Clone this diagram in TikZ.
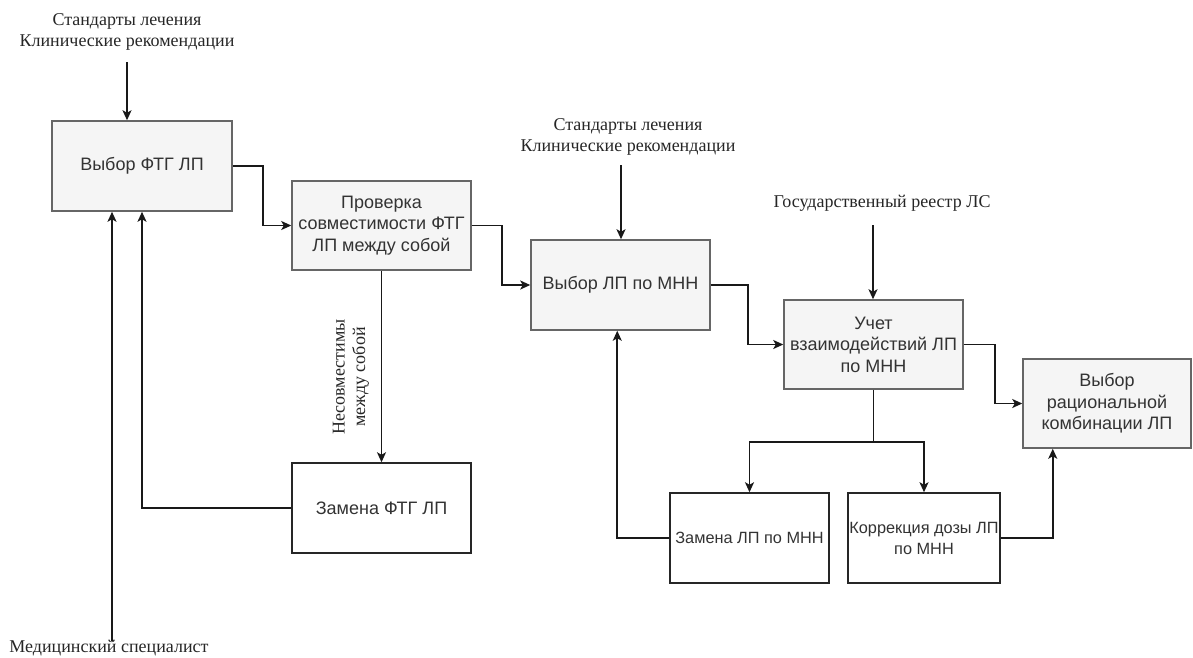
\documentclass[tikz,border=0pt]{standalone}
\usepackage{fontspec}
\setmainfont{Liberation Serif}
\newfontfamily\boxfont{Liberation Sans}
\usetikzlibrary{arrows.meta,positioning}
\definecolor{boxfill}{HTML}{F5F5F5}
\definecolor{boxline}{HTML}{666666}
\definecolor{boxtext}{HTML}{333333}
\tikzset{
  graybox/.style={draw=boxline, fill=boxfill, line width=1.5pt, text=boxtext,
    font=\boxfont\fontsize{18}{21.5}\selectfont, align=center, inner sep=2pt},
  whitebox/.style={draw=black!85, fill=white, line width=1.5pt, text=boxtext,
    font=\boxfont\fontsize{18}{21.5}\selectfont, align=center, inner sep=2pt},
  smalltext/.style={font=\boxfont\fontsize{16.3}{21}\selectfont, inner xsep=0pt},
  lbl/.style={font=\fontsize{18}{20.5}\selectfont, text=black!85, align=center, inner sep=0pt},
  conn/.style={line width=1.6pt, draw=black!90},
  arr/.style={conn, -{Stealth[length=10pt,width=9pt,inset=2.5pt]}},
}
\begin{document}
\begin{tikzpicture}[x=1pt,y=-1pt]
\useasboundingbox (0,0) rectangle (1193,657);
% boxes
\node[graybox, minimum width=180, minimum height=90] (b1) at (142,166) {Выбор ФТГ ЛП};
\node[graybox, minimum width=179, minimum height=89] (b2) at (381.5,225.5) {Проверка\\совместимости ФТГ\\ЛП между собой};
\node[whitebox, minimum width=179, minimum height=90] (b3) at (381.5,508) {Замена ФТГ ЛП};
\node[graybox, minimum width=179, minimum height=90] (b4) at (620.5,285) {Выбор ЛП по МНН};
\node[graybox, minimum width=179, minimum height=89] (b5) at (873.5,344.5) {Учет\\взаимодействий ЛП\\по МНН};
\node[graybox, minimum width=168, minimum height=89] (b6) at (1107,403.5) {Выбор\\рациональной\\комбинации ЛП};
\node[whitebox, smalltext, minimum width=159, minimum height=90] (b7) at (749.5,538) {Замена ЛП по МНН};
\node[whitebox, smalltext, minimum width=152, minimum height=90] (b8) at (924,538) {Коррекция дозы ЛП\\по МНН};
% labels
\node[lbl] (t1) at (127,32) {Стандарты лечения\\Клинические рекомендации};
\node[lbl] (t2) at (628,137) {Стандарты лечения\\Клинические рекомендации};
\node[lbl] (t3) at (882,203) {Государственный реестр ЛС};
\node[lbl] (t4) at (109,648) {Медицинский специалист};
\node[lbl, rotate=90] (t5) at (351,377) {Несовместимы\\между собой};
% input coordinates
\coordinate (i1) at (127,62);
\coordinate (i2) at (621,165);
\coordinate (i3) at (873,225);
\coordinate (i4) at (112,641);
% inputs
\draw[arr] (i1) -- (i1 |- b1.north);
\draw[arr] (i2) -- (i2 |- b4.north);
\draw[arr] (i3) -- (i3 |- b5.north);
\draw[arr] (i4) -- (i4 |- b1.south);
% flow
\draw[arr] (b1.east) -- ++(30,0) |- (b2.west);
\draw[arr] (b2.east) -- ++(30,0) |- (b4.west);
\draw[arr] (b4.east) -- ++(37,0) |- (b5.west);
\draw[arr] (b5.east) -- ++(31,0) |- (b6.west);
\draw[arr] (b2.south) -- (b3.north);
\draw[arr] (b3.west) -| (b1.south);
% branch
\draw[conn] (b5.south) -- ++(0,52) coordinate (br);
\draw[arr] (br) -| (b7.north);
\draw[arr] (br) -| (b8.north);
\draw[arr] (b7.west) -- ++(-52,0) coordinate (k1) -- (k1 |- b4.south);
\draw[arr] (b8.east) -- ++(52,0) coordinate (k2) -- (k2 |- b6.south);
\end{tikzpicture}
\end{document}
